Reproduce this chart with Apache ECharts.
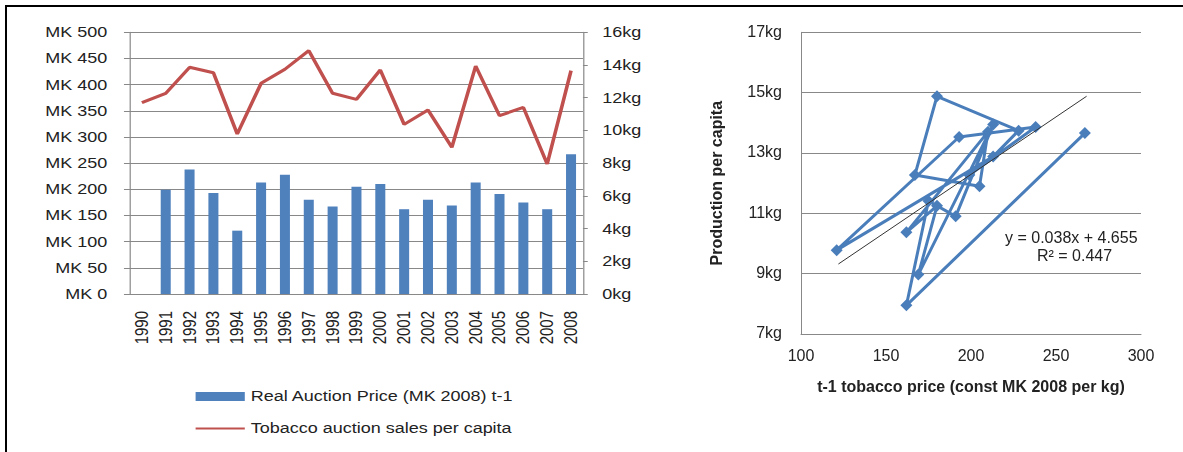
<!DOCTYPE html>
<html>
<head>
<meta charset="utf-8">
<script src="https://cdn.jsdelivr.net/npm/echarts@6/dist/echarts.min.js"></script>
<style>
  html, body { margin: 0; padding: 0; background: #fff; overflow: hidden; }
  body { width: 1183px; height: 452px; position: relative; }
  #frame { position: absolute; left: 5px; top: 5px; width: 2000px; height: 2000px;
    border-left: 2px solid #000; border-top: 2px solid #000; }
  /* the left chart in the source is stretched sideways, so stretch it here too */
  #left { position: absolute; left: 0; top: 0; width: 575px; height: 452px;
    transform: scaleX(1.2); transform-origin: 0 0; }
  #right { position: absolute; left: 690px; top: 0; width: 493px; height: 452px; }
</style>
</head>
<body>
<div id="frame"></div>
<div id="left"></div>
<div id="right"></div>
<script>
const years = ['1990', '1991', '1992', '1993', '1994', '1995', '1996', '1997', '1998', '1999',
  '2000', '2001', '2002', '2003', '2004', '2005', '2006', '2007', '2008']
// MK, price of the year before
const auctionPrice = [null, 199, 238, 193, 121, 213, 228, 180, 167, 205,
  210, 162, 180, 169, 213, 191, 175, 162, 267]
// kg per capita
const salesPerCapita = [11.70, 12.27, 13.86, 13.53, 9.78, 12.88, 13.74, 14.88, 12.27, 11.90,
  13.70, 10.37, 11.25, 8.97, 13.94, 10.90, 11.41, 7.95, 13.66]
const prodTicks = [7, 9, 11, 13, 15, 17]
const trendX = [122, 268]
const trendY = [9.32, 14.88]
const trendText = ['y = 0.038x + 4.655', 'R² = 0.447']

const FONT = "'Liberation Sans', Arial, sans-serif"
const TEXT = '#222'
const GRID = '#888'
const BLUE = '#4F81BD'
const RED = '#C0504D'

const left = echarts.init(document.getElementById('left'), null, { renderer: 'svg' })
left.setOption({
  animation: false,
  grid: { left: 108.3, right: 89.2, top: 32.3, bottom: 158 },
  legend: [{
    left: 158,
    top: 384,
    itemWidth: 41,
    itemHeight: 9,
    data: [{ name: 'Real Auction Price (MK 2008) t-1', icon: 'rect' }],
    textStyle: { fontFamily: FONT, fontSize: 15, color: TEXT }
  }, {
    left: 158,
    top: 416,
    itemWidth: 41,
    itemHeight: 2,
    data: [{ name: 'Tobacco auction sales per capita', icon: 'rect' }],
    textStyle: { fontFamily: FONT, fontSize: 15, color: TEXT }
  }],
  xAxis: {
    type: 'category',
    data: years,
    axisLine: { lineStyle: { color: GRID } },
    axisTick: { length: 4, lineStyle: { color: GRID } },
    axisLabel: { rotate: 90, interval: 0, margin: 17, fontFamily: FONT, fontSize: 15, color: TEXT }
  },
  yAxis: [{
    type: 'value',
    min: 0,
    max: 500,
    interval: 50,
    axisLine: { show: true, lineStyle: { color: GRID } },
    axisTick: { show: true, length: 5, lineStyle: { color: GRID } },
    splitLine: { lineStyle: { color: GRID } },
    axisLabel: { formatter: 'MK {value}', margin: 19, fontFamily: FONT, fontSize: 15, color: TEXT }
  }, {
    type: 'value',
    position: 'right',
    min: 0,
    max: 16,
    interval: 2,
    axisLine: { show: true, lineStyle: { color: GRID } },
    axisTick: { show: true, length: 4, lineStyle: { color: GRID } },
    splitLine: { show: false },
    axisLabel: { formatter: '{value}kg', margin: 16, fontFamily: FONT, fontSize: 15, color: TEXT }
  }],
  series: [{
    name: 'Real Auction Price (MK 2008) t-1',
    type: 'bar',
    barWidth: '42%',
    itemStyle: { color: BLUE },
    data: auctionPrice
  }, {
    name: 'Tobacco auction sales per capita',
    type: 'line',
    yAxisIndex: 1,
    symbol: 'none',
    lineStyle: { width: 3, color: RED },
    itemStyle: { color: RED },
    data: salesPerCapita
  }]
})

// price against production, joined in year order
const pairs = []
auctionPrice.forEach((p, i) => {
  if (p != null) pairs.push([p, salesPerCapita[i]])
})

const right = echarts.init(document.getElementById('right'))
right.setOption({
  animation: false,
  grid: { left: 111, right: 42, top: 32.3, bottom: 118 },
  xAxis: {
    type: 'value',
    min: 100,
    max: 300,
    interval: 50,
    axisLine: { show: true, onZero: false, lineStyle: { color: GRID } },
    axisTick: { show: false },
    splitLine: { show: false },
    axisLabel: { margin: 15, fontFamily: FONT, fontSize: 16, color: TEXT },
    name: 't-1 tobacco price (const MK 2008 per kg)',
    nameLocation: 'middle',
    nameGap: 46,
    nameTextStyle: { fontFamily: FONT, fontSize: 16, fontWeight: 'bold', color: TEXT }
  },
  yAxis: {
    type: 'value',
    min: 7,
    max: 17,
    axisLine: { show: true, lineStyle: { color: GRID } },
    axisTick: { show: false, customValues: prodTicks },
    splitLine: { lineStyle: { color: GRID } },
    axisLabel: { customValues: prodTicks, formatter: '{value}kg', margin: 19, fontFamily: FONT, fontSize: 16, color: TEXT },
    name: 'Production per capita',
    nameLocation: 'middle',
    nameGap: 75,
    nameTextStyle: { fontFamily: FONT, fontSize: 16, fontWeight: 'bold', color: TEXT }
  },
  series: [{
    type: 'line',
    symbol: 'diamond',
    symbolSize: 12,
    lineStyle: { width: 3, color: '#4A7EBB' },
    itemStyle: { color: '#4A7EBB' },
    data: pairs
  }, {
    type: 'line',
    symbol: 'none',
    lineStyle: { width: 1, color: '#333' },
    data: [[trendX[0], trendY[0]], [trendX[1], trendY[1]]],
    z: 5
  }],
  graphic: [{
    type: 'text',
    left: 315,
    top: 231,
    style: { text: trendText[0], font: '16px ' + FONT, fill: TEXT }
  }, {
    type: 'text',
    left: 347,
    top: 249,
    style: { text: trendText[1], font: '16px ' + FONT, fill: TEXT }
  }]
})
</script>
</body>
</html>
